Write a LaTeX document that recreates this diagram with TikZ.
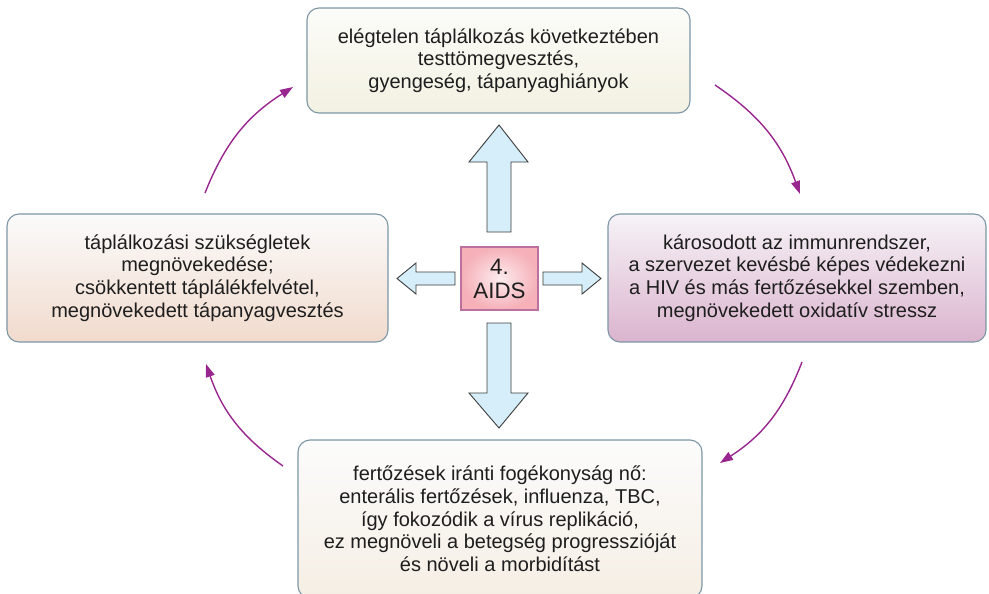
\documentclass[tikz,border=0pt]{standalone}
\usepackage{fontspec}
\setmainfont{Liberation Sans}
\usetikzlibrary{arrows.meta}

\definecolor{boxline}{RGB}{125,150,166}
\definecolor{cycleline}{RGB}{152,38,142}
\definecolor{blockfill}{RGB}{214,238,250}
\definecolor{blockline}{RGB}{60,60,60}
\definecolor{txt}{RGB}{30,30,30}

\tikzset{
  infobox/.style={draw=boxline, line width=1.1pt, rounded corners=12pt,
    align=center, text=txt, inner sep=0pt,
    font=\fontsize{20}{22.7}\selectfont},
  cyclearrow/.style={draw=cycleline, line width=1.4pt,
    -{Triangle[length=13pt,width=9pt]}},
  blockarrow/.style={fill=blockfill, draw=blockline, line width=0.9pt, line join=miter},
}

\begin{document}
\begin{tikzpicture}[x=1pt,y=-1pt]
\useasboundingbox (0,0) rectangle (989,594);

% the four outcome boxes
\node[infobox, minimum width=383pt, minimum height=105pt,
      top color={rgb,255:red,252;green,252;blue,249}, bottom color={rgb,255:red,243;green,241;blue,226}]
  (top) at (498.5,60.5)
  {elégtelen táplálkozás következtében\\testtömegvesztés,\\gyengeség, tápanyaghiányok};

\node[infobox, minimum width=378pt, minimum height=128pt,
      top color={rgb,255:red,246;green,243;blue,247}, bottom color={rgb,255:red,219;green,180;blue,206}]
  (right) at (797,278)
  {károsodott az immunrendszer,\\a szervezet kevésbé képes védekezni\\a HIV és más fertőzésekkel szemben,\\megnövekedett oxidatív stressz};

\node[infobox, minimum width=381pt, minimum height=128pt,
      top color={rgb,255:red,251;green,251;blue,251}, bottom color={rgb,255:red,241;green,219;blue,205}]
  (left) at (197.5,278)
  {táplálkozási szükségletek\\megnövekedése;\\csökkentett táplálékfelvétel,\\megnövekedett tápanyagvesztés};

\node[infobox, minimum width=404pt, minimum height=158pt,
      top color={rgb,255:red,252;green,252;blue,252}, bottom color={rgb,255:red,245;green,238;blue,228}]
  (bottom) at (500,519)
  {fertőzések iránti fogékonyság nő:\\enterális fertőzések, influenza, TBC,\\így fokozódik a vírus replikáció,\\ez megnöveli a betegség progresszióját\\és növeli a morbidítást};

% central box
\node[draw={rgb,255:red,188;green,112;blue,160}, line width=1.1pt,
      inner color={rgb,255:red,253;green,236;blue,238}, outer color={rgb,255:red,245;green,176;blue,184},
      minimum width=77pt, minimum height=63pt, inner sep=0pt, align=center, text=txt,
      font=\fontsize{22.3}{24}\selectfont]
  (aids) at (499.5,278.5) {4.\\AIDS};

% block arrows pointing out of the central box
\path[blockarrow] (487,232) -- (487,162) -- (469,162) -- (499,125) -- (528,162) -- (511,162) -- (511,232) -- cycle;
\path[blockarrow] (487,323) -- (487,393) -- (469,393) -- (499,428) -- (528,393) -- (511,393) -- (511,323) -- cycle;
\path[blockarrow] (455,272) -- (416,272) -- (416,263) -- (397,278.5) -- (416,294) -- (416,285) -- (455,285) -- cycle;
\path[blockarrow] (543,272) -- (582,272) -- (582,263) -- (601,278.5) -- (582,294) -- (582,285) -- (543,285) -- cycle;

% ends of the cycle arrows
\coordinate (tr1) at (715,85);
\coordinate (tr2) at (800,194);
\coordinate (br1) at (802,362);
\coordinate (br2) at (720,463);
\coordinate (bl1) at (283,466);
\coordinate (bl2) at (206,364);
\coordinate (tl1) at (205,193);
\coordinate (tl2) at (293,87);

\draw[cyclearrow] (tr1) to[bend left=18] (tr2);
\draw[cyclearrow] (br1) to[bend left=18] (br2);
\draw[cyclearrow] (bl1) to[bend left=18] (bl2);
\draw[cyclearrow] (tl1) to[bend left=18] (tl2);
\end{tikzpicture}
\end{document}
